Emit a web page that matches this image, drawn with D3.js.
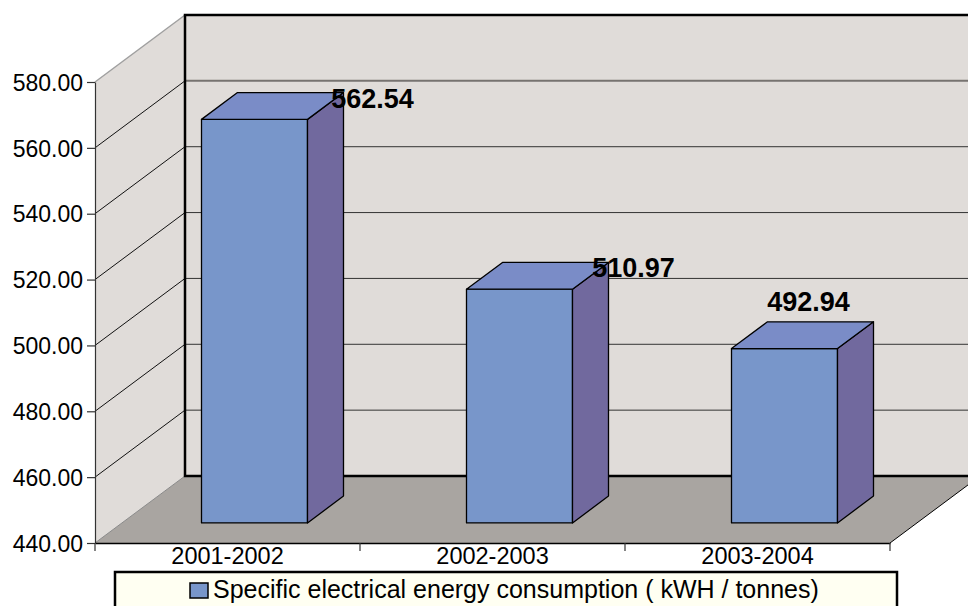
<!DOCTYPE html>
<html>
<head>
<meta charset="utf-8">
<script src="https://cdn.jsdelivr.net/npm/d3@7"></script>
<style>
  html, body { margin: 0; padding: 0; background: #ffffff; }
  svg { display: block; font-family: "Liberation Sans", Arial, sans-serif; }
</style>
</head>
<body>
<svg id="chart" width="968" height="606"></svg>
<script>
// ---- data ----
const categories = ["2001-2002", "2002-2003", "2003-2004"];
const values = [562.54, 510.97, 492.94];
const valueLabels = ["562.54", "510.97", "492.94"];
const yTicks = [440, 460, 480, 500, 520, 540, 560, 580];
const seriesName = "Specific electrical energy consumption ( kWH / tonnes)";

// ---- layout / style ----
const W = 968, H = 606;
const DX = 90, DY = -67;            // depth offset of back wall
const barDepth0 = 0.3, barDepth1 = 0.7;
const barFrac = 0.4;
const labelNudge = [[94, 26], [90, 26], [0, 0]];
const colFront = "#7896CA", colTop = "#7A8CC7", colSide = "#71699E";
const wallCol = "#E0DCD9", floorCol = "#A9A5A1";

const svg = d3.select("#chart");

const x = d3.scaleBand().domain(categories).range([95, 890]).paddingInner(0).paddingOuter(0);
const y = d3.scaleLinear().domain([440, 580]).range([543, 82]);
const yMin = 440, yMax = 580;

function P(px, v, d) { return [px + d * DX, y(v) + d * DY]; }
const line = d3.line();

const x0 = x.range()[0], x1 = x.range()[1];

// side wall
svg.append("path").attr("d", line([P(x0, yMax, 0), P(x0, yMax, 1), P(x0, yMin, 1), P(x0, yMin, 0)]) + "Z")
  .attr("fill", wallCol);
// back wall
svg.append("path").attr("d", line([P(x0, yMax, 1), P(x1, yMax, 1), P(x1, yMin, 1), P(x0, yMin, 1)]) + "Z")
  .attr("fill", wallCol);
// floor
svg.append("path").attr("d", line([P(x0, yMin, 0), P(x1, yMin, 0), P(x1, yMin, 1), P(x0, yMin, 1)]) + "Z")
  .attr("fill", floorCol);

// gridlines
yTicks.forEach(v => {
  if (v === yMin || v === yMax) return;
  svg.append("path").attr("d", line([P(x0, v, 0), P(x0, v, 1)]))
    .attr("stroke", "#111").attr("stroke-width", 1).attr("fill", "none");
  svg.append("path").attr("d", line([P(x0, v, 1), P(x1, v, 1)]))
    .attr("stroke", v === 560 ? "#777370" : "#333").attr("stroke-width", v === 560 ? 2 : 1).attr("fill", "none");
});
// wall top edge and floor/wall join on side
svg.append("path").attr("d", line([P(x0, yMax, 0), P(x0, yMax, 1)]))
  .attr("stroke", "#a0a0a0").attr("stroke-width", 1.5).attr("fill", "none");
svg.append("path").attr("d", line([P(x0, yMin, 0), P(x0, yMin, 1)]))
  .attr("stroke", "#8a8a8a").attr("stroke-width", 1).attr("fill", "none");
// back wall borders (left, top, bottom)
svg.append("path").attr("d", line([P(x1, yMax, 1), P(x0, yMax, 1), P(x0, yMin, 1), P(x1, yMin, 1)]))
  .attr("stroke", "#000").attr("stroke-width", 2.5).attr("fill", "none");
// floor right edge
svg.append("path").attr("d", line([P(x1, yMin, 0), P(x1, yMin, 1)]))
  .attr("stroke", "#000").attr("stroke-width", 1).attr("fill", "none");

// bars
const bw = x.bandwidth() * barFrac;
categories.forEach((c, i) => {
  const v = values[i];
  const bl = x(c) + (x.bandwidth() - bw) / 2;
  const br = bl + bw;
  const g = svg.append("g").attr("stroke", "#000").attr("stroke-width", 1.3).attr("stroke-linejoin", "round");
  // front
  g.append("path").attr("d", line([P(bl, v, barDepth0), P(br, v, barDepth0), P(br, yMin, barDepth0), P(bl, yMin, barDepth0)]) + "Z")
    .attr("fill", colFront);
  // side
  g.append("path").attr("d", line([P(br, v, barDepth0), P(br, v, barDepth1), P(br, yMin, barDepth1), P(br, yMin, barDepth0)]) + "Z")
    .attr("fill", colSide);
  // top
  g.append("path").attr("d", line([P(bl, v, barDepth0), P(bl, v, barDepth1), P(br, v, barDepth1), P(br, v, barDepth0)]) + "Z")
    .attr("fill", colTop);
});

// value labels
categories.forEach((c, i) => {
  const v = values[i];
  const cx = x(c) + x.bandwidth() / 2;
  const mid = (barDepth0 + barDepth1) / 2;
  const top = P(cx, v, barDepth1);
  const tx = cx + mid * DX + 6 + labelNudge[i][0];
  const ty = top[1] - 11 + labelNudge[i][1];
  svg.append("text").attr("x", tx).attr("y", ty)
    .attr("text-anchor", "middle").attr("font-size", 27).attr("font-weight", "bold")
    .attr("fill", "#000").text(valueLabels[i]);
});

// y axis
const yAxis = d3.axisLeft(y).tickValues(yTicks).tickFormat(d3.format(".2f")).tickSize(8).tickSizeOuter(0).tickPadding(4);
const gy = svg.append("g").attr("transform", `translate(${x0},0)`).call(yAxis);
gy.select(".domain").attr("stroke", "#333").attr("stroke-width", 1.2);
gy.selectAll(".tick line").attr("stroke", "#333").attr("stroke-width", 1.2);
gy.selectAll(".tick text").attr("font-size", 23).attr("fill", "#000")
  .attr("font-family", "Liberation Sans, Arial, sans-serif").attr("dy", "0.36em");

// x axis
const xAxis = d3.axisBottom(x).tickSize(0).tickPadding(8).tickSizeOuter(0);
const gx = svg.append("g").attr("transform", `translate(0,${y(yMin)})`).call(xAxis);
gx.select(".domain").attr("stroke", "#000").attr("stroke-width", 1.5);
gx.selectAll(".tick text").attr("font-size", 23.5).attr("fill", "#000")
  .attr("font-family", "Liberation Sans, Arial, sans-serif").attr("dy", "0.55em");
const bounds = categories.map(c => x(c)).concat([x1]);
gx.selectAll(".xb").data(bounds).enter().append("line").attr("class", "xb")
  .attr("x1", d => d).attr("x2", d => d).attr("y1", 0).attr("y2", 8)
  .attr("stroke", "#333").attr("stroke-width", 1.2);

// legend
const lg = svg.append("g");
lg.append("rect").attr("x", 115).attr("y", 572).attr("width", 782).attr("height", 44)
  .attr("fill", "#FFFFF2").attr("stroke", "#000").attr("stroke-width", 2.5);
lg.append("rect").attr("x", 190).attr("y", 583).attr("width", 18).attr("height", 15)
  .attr("fill", colFront).attr("stroke", "#000").attr("stroke-width", 1.5);
lg.append("text").attr("x", 213).attr("y", 598).attr("font-size", 25).attr("fill", "#000").text(seriesName);
</script>
</body>
</html>
